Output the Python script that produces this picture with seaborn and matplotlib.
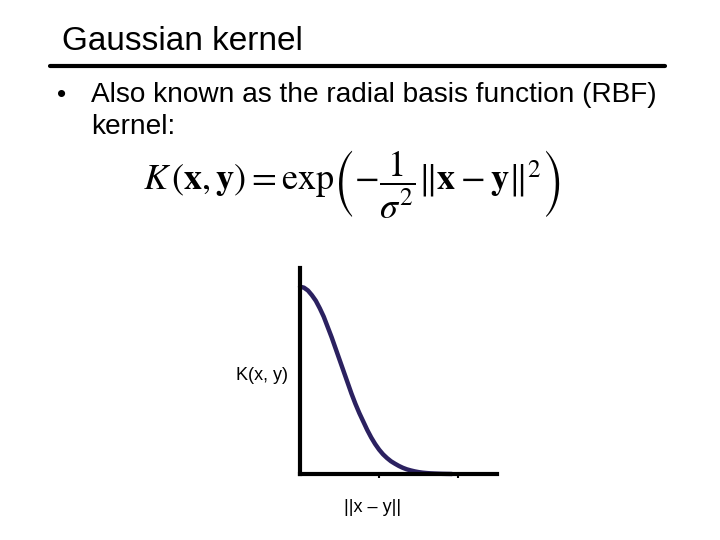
import matplotlib
matplotlib.use("Agg")
import matplotlib.pyplot as plt
import seaborn as sns

# curve (distance vs kernel value)
dist = [0.00, 0.05, 0.10, 0.15, 0.20, 0.25, 0.30, 0.35, 0.40, 0.45,
        0.50, 0.55, 0.60, 0.65, 0.70, 0.75, 0.80, 0.85, 0.90, 0.95,
        1.00, 1.05, 1.10, 1.15, 1.20, 1.25, 1.30, 1.35, 1.40, 1.45,
        1.50, 1.55, 1.60, 1.65, 1.70, 1.75, 1.80, 1.85, 1.90, 1.92]
kval = [1.00, 0.995, 0.98, 0.955, 0.925, 0.885, 0.84, 0.785, 0.73, 0.67,
        0.61, 0.55, 0.49, 0.43, 0.375, 0.325, 0.28, 0.235, 0.195, 0.16,
        0.13, 0.105, 0.085, 0.068, 0.055, 0.043, 0.033, 0.025, 0.019, 0.014,
        0.010, 0.007, 0.005, 0.0035, 0.0025, 0.0017, 0.001, 0.0006, 0.0003, 0.0]
xticks = [1, 2]

title = "Gaussian kernel"
bullet_lines = ["Also known as the radial basis function (RBF)", "kernel:"]
formula = (r"$K\,(\mathbf{x},\mathbf{y}) = \mathrm{exp}\left(-\dfrac{1}{\sigma^{2}}"
           r"\Vert\mathbf{x}-\mathbf{y}\Vert^{2}\right)$")

sns.set_style("white")
plt.rcParams["font.family"] = ["Liberation Sans", "DejaVu Sans"]
plt.rcParams["mathtext.fontset"] = "stix"
plt.rcParams["text.color"] = "black"

fig = plt.figure(figsize=(7.2, 5.4), dpi=100)

# slide text
fig.text(62 / 720, 1 - 42 / 540, title, fontsize=24, va="center", ha="left")
fig.add_artist(plt.Line2D([50 / 720, 665 / 720], [1 - 66 / 540, 1 - 66 / 540],
                          color="black", lw=3))
fig.text(57 / 720, 1 - 95 / 540, "\u2022", fontsize=19, va="center", ha="left")
fig.text(91 / 720, 1 - 95 / 540, bullet_lines[0], fontsize=20.2, va="center", ha="left")
fig.text(91 / 720, 1 - 127 / 540, bullet_lines[1], fontsize=20.2, va="center", ha="left")
fig.text(352 / 720, 1 - 184 / 540, formula, fontsize=26, va="center", ha="center")

# the little plot
ax = fig.add_axes([300 / 720, 66 / 540, 197 / 720, 206 / 540])
sns.lineplot(x=dist, y=kval, ax=ax, color="#2b2160", lw=3.2, clip_on=False)
ax.set_xlim(0, 2.49)
ax.set_ylim(0, 1.10)
ax.set_xticks(xticks)
ax.set_xticklabels([])
ax.set_yticks([])
ax.tick_params(axis="x", direction="out", length=3, width=1.5, color="black", bottom=True)
sns.despine(ax=ax)
for side in ["left", "bottom"]:
    ax.spines[side].set_color("black")
    ax.spines[side].set_linewidth(3)
ax.set_xlabel("")
ax.set_ylabel("")

fig.text(288 / 720, 1 - 376 / 540, "K(x, y)", fontsize=13, va="center", ha="right")
fig.text(373 / 720, 1 - 507 / 540, "||x \u2013 y||", fontsize=13, va="center", ha="center")

fig.savefig("out.png", dpi=100)
